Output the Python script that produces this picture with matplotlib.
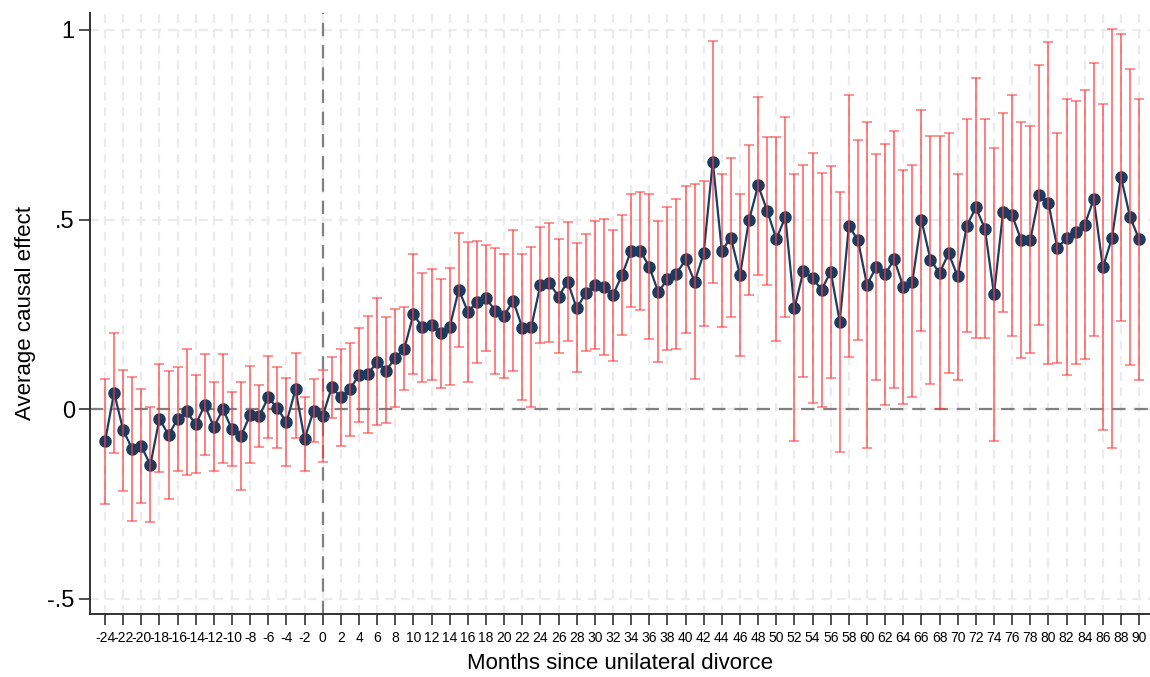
import matplotlib
matplotlib.use("Agg")
import matplotlib.pyplot as plt
import numpy as np

plt.rcParams['font.family'] = ['Liberation Sans Narrow', 'Liberation Sans', 'DejaVu Sans']

months = list(range(-24, 91))

est = [-0.085, 0.044, -0.055, -0.105, -0.097, -0.147, -0.025, -0.068, -0.026, -0.006,
       -0.040, 0.011, -0.047, 0.000, -0.053, -0.070, -0.015, -0.018, 0.031, 0.003,
       -0.035, 0.052, -0.078, -0.004, -0.018, 0.058, 0.031, 0.053, 0.090, 0.093,
       0.125, 0.102, 0.136, 0.160, 0.250, 0.216, 0.222, 0.200, 0.217, 0.315,
       0.257, 0.282, 0.293, 0.260, 0.247, 0.286, 0.215, 0.218, 0.328, 0.332,
       0.297, 0.336, 0.266, 0.306, 0.328, 0.323, 0.301, 0.354, 0.418, 0.418,
       0.376, 0.308, 0.344, 0.357, 0.395, 0.336, 0.411, 0.653, 0.418, 0.452,
       0.354, 0.499, 0.590, 0.523, 0.449, 0.506, 0.266, 0.365, 0.345, 0.315,
       0.363, 0.231, 0.483, 0.446, 0.328, 0.374, 0.356, 0.395, 0.323, 0.336,
       0.499, 0.394, 0.359, 0.411, 0.350, 0.483, 0.532, 0.476, 0.303, 0.519,
       0.511, 0.446, 0.446, 0.565, 0.543, 0.424, 0.452, 0.466, 0.486, 0.554,
       0.374, 0.451, 0.612, 0.507, 0.448]

ci_hi = [0.080, 0.200, 0.104, 0.086, 0.054, 0.006, 0.118, 0.100, 0.110, 0.159,
         0.089, 0.145, 0.071, 0.145, 0.045, 0.073, 0.114, 0.064, 0.141, 0.110,
         0.083, 0.149, 0.031, 0.080, 0.103, 0.139, 0.160, 0.175, 0.215, 0.246,
         0.292, 0.243, 0.264, 0.270, 0.409, 0.359, 0.369, 0.344, 0.372, 0.464,
         0.441, 0.444, 0.433, 0.426, 0.410, 0.472, 0.409, 0.428, 0.481, 0.490,
         0.448, 0.494, 0.438, 0.461, 0.497, 0.502, 0.473, 0.512, 0.568, 0.572,
         0.567, 0.495, 0.533, 0.554, 0.589, 0.594, 0.602, 0.972, 0.620, 0.662,
         0.568, 0.697, 0.823, 0.719, 0.719, 0.770, 0.620, 0.644, 0.675, 0.624,
         0.641, 0.572, 0.829, 0.710, 0.756, 0.672, 0.700, 0.734, 0.631, 0.644,
         0.789, 0.720, 0.720, 0.728, 0.620, 0.765, 0.873, 0.765, 0.690, 0.780,
         0.829, 0.756, 0.747, 0.908, 0.968, 0.728, 0.817, 0.813, 0.842, 0.914,
         0.806, 1.003, 0.990, 0.898, 0.819]

ci_lo = [-0.250, -0.116, -0.215, -0.294, -0.248, -0.298, -0.166, -0.236, -0.164, -0.174,
         -0.169, -0.120, -0.164, -0.143, -0.149, -0.213, -0.143, -0.099, -0.077, -0.103,
         -0.149, -0.077, -0.164, -0.087, -0.140, -0.024, -0.098, -0.070, -0.034, -0.063,
         -0.041, -0.036, 0.006, 0.051, 0.093, 0.072, 0.076, 0.057, 0.064, 0.165,
         0.072, 0.121, 0.154, 0.092, 0.083, 0.101, 0.025, 0.007, 0.174, 0.177,
         0.147, 0.180, 0.098, 0.154, 0.160, 0.144, 0.128, 0.196, 0.270, 0.262,
         0.184, 0.124, 0.156, 0.159, 0.202, 0.079, 0.220, 0.334, 0.218, 0.243,
         0.141, 0.300, 0.354, 0.327, 0.180, 0.243, -0.085, 0.084, 0.016, 0.005,
         0.082, -0.112, 0.139, 0.183, -0.103, 0.077, 0.010, 0.056, 0.014, 0.032,
         0.207, 0.066, 0.000, 0.095, 0.077, 0.203, 0.189, 0.189, -0.085, 0.256,
         0.194, 0.134, 0.148, 0.222, 0.119, 0.121, 0.089, 0.119, 0.133, 0.194,
         -0.056, -0.101, 0.233, 0.117, 0.077]

xticks = list(range(-24, 91, 2))
yticks = [-0.5, 0, 0.5, 1]
ytick_labels = ['-.5', '0', '.5', '1']

fig = plt.figure(figsize=(11.5, 6.77), dpi=100)
ax = fig.add_axes([0.0783, 0.093, 0.9217, 0.888])

# background grid, stata style
for xt in xticks:
    ax.axvline(xt, color='#ebebeb', lw=1.6, ls=(0, (4, 3)), zorder=0)
for yt in yticks:
    ax.axhline(yt, color='#ebebeb', lw=1.6, ls=(0, (4, 3)), zorder=0)

ax.axhline(0, color='#808080', lw=1.6, ls=(0, (6, 4)), zorder=1)
ax.axvline(0, color='#808080', lw=1.6, ls=(0, (6, 4)), zorder=1)

x = np.array(months)
y = np.array(est)
yerr = [y - np.array(ci_lo), np.array(ci_hi) - y]

ax.plot(x, y, color='#1a3d63', lw=1.6, marker='o', ms=8, mfc='#1c3b5e', mec='#1c3b5e', zorder=3)
ax.errorbar(x, y, yerr=yerr, fmt='none', ecolor='#ff3b3b', elinewidth=1.3,
            capsize=3.5, capthick=1.1, alpha=0.7, zorder=4)

ax.set_xlim(-25.65, 91.2)
ax.set_ylim(-0.54, 1.045)
ax.set_xticks(xticks)
ax.set_xticklabels([str(t) for t in xticks], fontsize=10)
ax.set_yticks(yticks)
ax.set_yticklabels(ytick_labels, fontsize=17)

ax.tick_params(axis='x', length=8, width=1.2, color='#333333', pad=4)
ax.tick_params(axis='y', length=8, width=1.2, color='#333333', pad=3)

for s in ['top', 'right']:
    ax.spines[s].set_visible(False)
for s in ['left', 'bottom']:
    ax.spines[s].set_color('#333333')
    ax.spines[s].set_linewidth(1.4)

ax.set_xlabel('Months since unilateral divorce', fontsize=16, labelpad=6)
ax.set_ylabel('Average causal effect', fontsize=16, labelpad=8)

fig.savefig('out.png', dpi=100)
